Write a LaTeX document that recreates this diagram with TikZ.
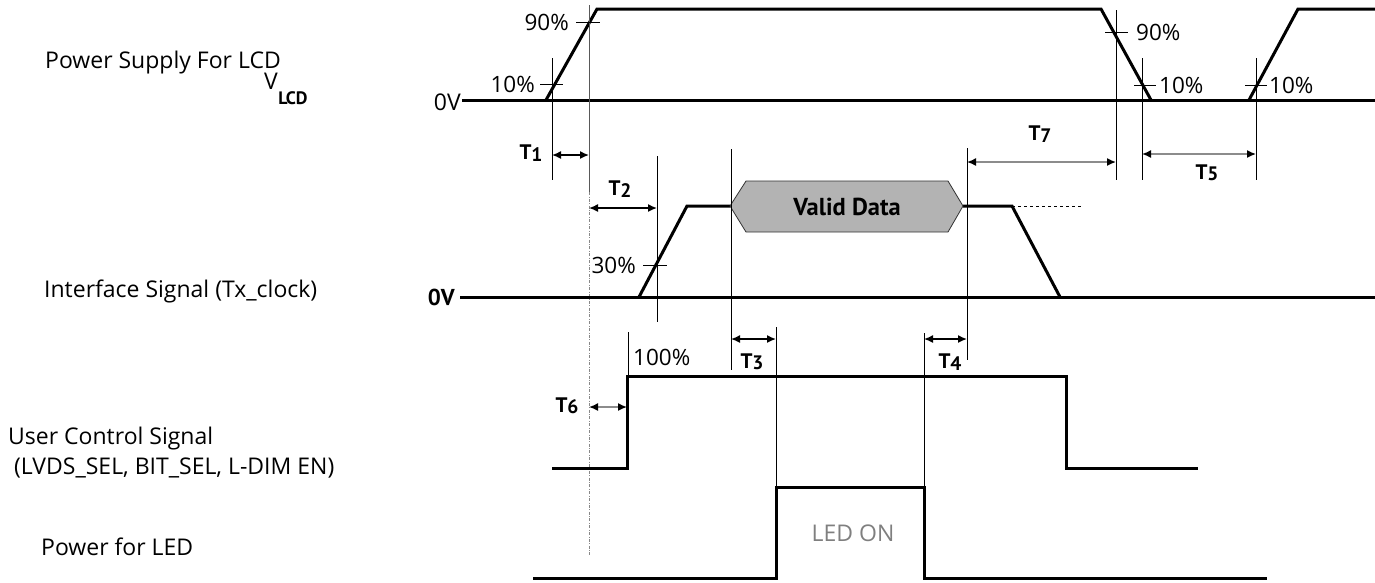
\documentclass[tikz,border=0pt]{standalone}
\usepackage{fontspec}
\setmainfont{Open Sans}
\newfontfamily\bfont{PT Sans}
\usetikzlibrary{arrows.meta}
\definecolor{shaft}{HTML}{8C8C8C}
\definecolor{hexfill}{HTML}{B3B3B3}
\definecolor{ledgray}{HTML}{7F7F7F}
\definecolor{dotgray}{HTML}{888888}
\newcommand{\tlab}[2]{#1\raisebox{-1.5pt}{\fontsize{19.5}{20}\selectfont #2}}
\begin{document}
\begin{tikzpicture}[x=1pt,y=-1pt,
  sig/.style={line width=3pt, line join=miter},
  guide/.style={line width=0.9pt},
  tickline/.style={line width=0.9pt},
  dim/.style={line width=1.5pt, draw=black, {Latex[length=9pt,width=8pt,color=black]}-{Latex[length=9pt,width=8pt,color=black]}},
  dimg/.style={dim, draw=shaft},
  lbl/.style={font=\fontsize{23}{26}\selectfont, inner sep=0pt, anchor=base west},
  pct/.style={font=\fontsize{22.5}{24}\selectfont, inner sep=0pt},
  tl/.style={font=\bfont\bfseries\fontsize{21}{22}\selectfont, inner sep=0pt},
]
\useasboundingbox (0,0) rectangle (1375,582);

% ---------- left labels ----------
\node[lbl] (lPS) at (45,68) {Power Supply For LCD};
\node[lbl] (lV) at (264,89) {V};
\node[lbl, font=\bfont\bfseries\fontsize{18}{18}\selectfont] (lVsub) at (lV.base east) [yshift=-15pt] {LCD};
\node[lbl] (lIF) at (44,297) {Interface Signal (Tx\_clock)};
\node[lbl] (lUC) at (8,444) {User Control Signal};
\node[lbl] (lUC2) at (8,474) {\ (LVDS\_SEL, BIT\_SEL, L-DIM EN)};
\node[lbl] (lLED) at (41,555) {Power for LED};

% ---------- row 1 : VLCD ----------
\node[pct, anchor=east, font=\fontsize{23}{24}\selectfont] (z1) at (461,102) {0V};
\coordinate (b1s) at (462,100);
\coordinate (b1e) at (1375,100);
\draw[sig] (b1s) -- (b1e);
\draw[sig] (546,100) -- (597,9) -- (1101,9) -- (1151,100);
\draw[sig] (1249,100) -- (1298,9) -- (1375,9);

% guides row 1
\coordinate (gA1) at (552,58);  \coordinate (gA2) at (552,180);
\coordinate (gB1) at (589,5);   \coordinate (gB2) at (589,192); \coordinate (gB3) at (589,555);
\coordinate (gC1) at (1116,10); \coordinate (gC2) at (1116,180);
\coordinate (gD1) at (1142,58); \coordinate (gD2) at (1142,180);
\coordinate (gE1) at (1256,58); \coordinate (gE2) at (1256,180);
\draw[guide] (gA1) -- (gA2);
\draw[guide, draw=black!65] (gB1) -- (gB2);
\draw[line width=0.8pt, dotgray, dash pattern=on 3pt off 1.5pt on 0.8pt off 1.5pt] (gB2) -- (gB3);
\draw[guide] (gC1) -- (gC2);
\draw[guide] (gD1) -- (gD2);
\draw[guide] (gE1) -- (gE2);

% ticks row 1
\draw[tickline] (540,84) -- (563,84);
\node[pct, anchor=east] (p10a) at (535,84) {10\%};
\draw[tickline] (576,22) -- (600,22);
\node[pct, anchor=east] (p90a) at (569,22) {90\%};
\draw[tickline] (1105,32) -- (1128,32);
\node[pct, anchor=west] (p90b) at (1136,32) {90\%};
\draw[tickline] (1134,85) -- (1156,85);
\node[pct, anchor=west] (p10b) at (1159,85) {10\%};
\draw[tickline] (1245,85) -- (1267,85);
\node[pct, anchor=west] (p10c) at (1269,85) {10\%};

% ---------- row 2 : interface ----------
\node[tl, anchor=east, font=\bfont\bfseries\fontsize{23}{24}\selectfont] (z2) at (455,297) {0V};
\coordinate (b2s) at (460,297);
\coordinate (b2e) at (1375,297);
\draw[sig] (b2s) -- (b2e);
\draw[sig] (639,297) -- (687,206) -- (730,206);
\draw[sig] (963,206) -- (1012,206) -- (1060,297);
\draw[line width=0.8pt, dashed] (1012,206) -- (1081,206);
\draw[fill=hexfill, draw=black!80, line width=0.8pt]
  (730,206) -- (746,181) -- (948,181) -- (963,206) -- (948,232) -- (746,232) -- cycle;
\node[tl, font=\bfont\bfseries\fontsize{24.5}{26}\selectfont] (vd) at (847,207) {Valid Data};

\coordinate (gF1) at (657,156); \coordinate (gF2) at (657,322);
\coordinate (gG1) at (731,149); \coordinate (gG2) at (731,370);
\coordinate (gH1) at (967,148); \coordinate (gH2) at (967,360);
\draw[guide] (gF1) -- (gF2);
\draw[guide] (gG1) -- (gG2);
\draw[guide] (gH1) -- (gH2);
\draw[tickline] (643,265) -- (667,265);
\node[pct, anchor=east] (p30) at (636,265) {30\%};

% ---------- row 3 : user control ----------
\draw[sig] (552,468) -- (627,468) -- (627,376) -- (1066,376) -- (1066,468) -- (1198,468);
\coordinate (gI1) at (628,332); \coordinate (gI2) at (628,376);
\draw[guide] (gI1) -- (gI2);
\node[pct, anchor=west] (p100) at (633,357) {100\%};

% ---------- row 4 : LED ----------
\draw[sig] (533,578) -- (776,578) -- (776,487) -- (924,487) -- (924,578) -- (1267,578);
\coordinate (gJ1) at (776,327); \coordinate (gJ2) at (776,487);
\coordinate (gK1) at (924,333); \coordinate (gK2) at (924,487);
\draw[guide] (gJ1) -- (gJ2);
\draw[guide] (gK1) -- (gK2);
\node[pct, text=ledgray, font=\fontsize{23}{24}\selectfont] (ledon) at (853,533) {LED ON};

% ---------- dimension arrows ----------
\coordinate (t1a) at (552,155); \coordinate (t1b) at (589,155);
\draw[dim] (t1a) -- (t1b);
\node[tl] (T1) at (531,153) {\tlab{T}{1}};
\coordinate (t2a) at (589,208); \coordinate (t2b) at (657,208);
\draw[dim] (t2a) -- (t2b);
\node[tl] (T2) at (620,189) {\tlab{T}{2}};
\coordinate (t7a) at (967,162); \coordinate (t7b) at (1116,162);
\draw[dimg] (t7a) -- (t7b);
\node[tl] (T7) at (1040,134) {\tlab{T}{7}};
\coordinate (t5a) at (1142,154); \coordinate (t5b) at (1256,154);
\draw[dimg] (t5a) -- (t5b);
\node[tl] (T5) at (1207,173) {\tlab{T}{5}};
\coordinate (t3a) at (731,339); \coordinate (t3b) at (776,339);
\draw[dim] (t3a) -- (t3b);
\node[tl] (T3) at (752,362) {\tlab{T}{3}};
\coordinate (t4a) at (924,339); \coordinate (t4b) at (967,339);
\draw[dim] (t4a) -- (t4b);
\node[tl] (T4) at (950,362) {\tlab{T}{4}};
\coordinate (t6a) at (589,407); \coordinate (t6b) at (627,407);
\draw[dimg] (t6a) -- (t6b);
\node[tl] (T6) at (567,406) {\tlab{T}{6}};
\end{tikzpicture}
\end{document}
